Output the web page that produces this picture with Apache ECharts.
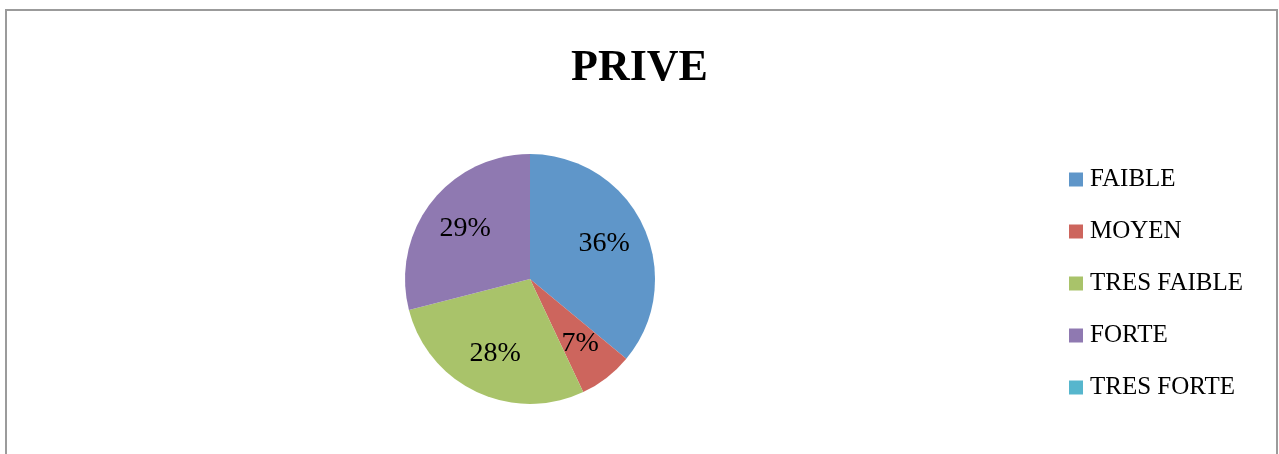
<!DOCTYPE html>
<html>
<head>
<meta charset="utf-8">
<script src="https://cdn.jsdelivr.net/npm/echarts@6/dist/echarts.min.js"></script>
<style>
html,body{margin:0;padding:0;background:#fff;}
#chart{width:1279px;height:454px;}
</style>
</head>
<body>
<div id="chart"></div>
<script>
var titleText = 'PRIVE';
var categories = ['FAIBLE', 'MOYEN', 'TRES FAIBLE', 'FORTE', 'TRES FORTE'];
var values = [36, 7, 28, 29, 0];
var colors = ['#5f96c9', '#cd655d', '#a9c36a', '#8f79b1', '#56b6cd'];

var fontFam = '"Liberation Serif", "DejaVu Serif", serif';
var pieData = categories.map(function (c, i) {
  return { name: c, value: values[i], itemStyle: { color: colors[i] } };
});
var labelData = categories.map(function (c, i) {
  return { name: c, value: values[i], label: { show: values[i] > 0 } };
});

var chart = echarts.init(document.getElementById('chart'));
chart.setOption({
  animation: false,
  backgroundColor: '#ffffff',
  color: colors,
  title: {
    text: titleText,
    left: 'center',
    top: 47,
    padding: 0,
    textStyle: { fontFamily: fontFam, fontWeight: 'bold', fontSize: 44, color: '#000', lineHeight: 44 }
  },
  legend: {
    orient: 'vertical',
    left: 1069,
    top: 167,
    padding: 0,
    itemWidth: 14,
    itemHeight: 14,
    itemGap: 27,
    icon: 'rect',
    data: categories,
    textStyle: { fontFamily: fontFam, fontSize: 25, color: '#000', lineHeight: 25, padding: [0, 0, 0, 2] }
  },
  graphic: [{
    type: 'rect',
    silent: true,
    z: -10,
    shape: { x: 6, y: 10, width: 1271, height: 480 },
    style: { fill: 'none', stroke: '#9b9b9b', lineWidth: 2 }
  }],
  series: [{
    type: 'pie',
    center: [530, 279],
    radius: [0, 125],
    startAngle: 90,
    clockwise: true,
    label: { show: false },
    labelLine: { show: false },
    itemStyle: { borderWidth: 0 },
    emphasis: { disabled: true },
    data: pieData
  }, {
    type: 'pie',
    center: [530, 279],
    radius: [33, 125],
    startAngle: 90,
    clockwise: true,
    silent: true,
    legendHoverLink: false,
    itemStyle: { color: 'rgba(0,0,0,0)', borderWidth: 0 },
    label: {
      position: 'inside',
      formatter: '{d}%',
      fontFamily: fontFam,
      fontSize: 28,
      color: '#000'
    },
    labelLine: { show: false },
    emphasis: { disabled: true },
    data: labelData
  }]
});
</script>
</body>
</html>
